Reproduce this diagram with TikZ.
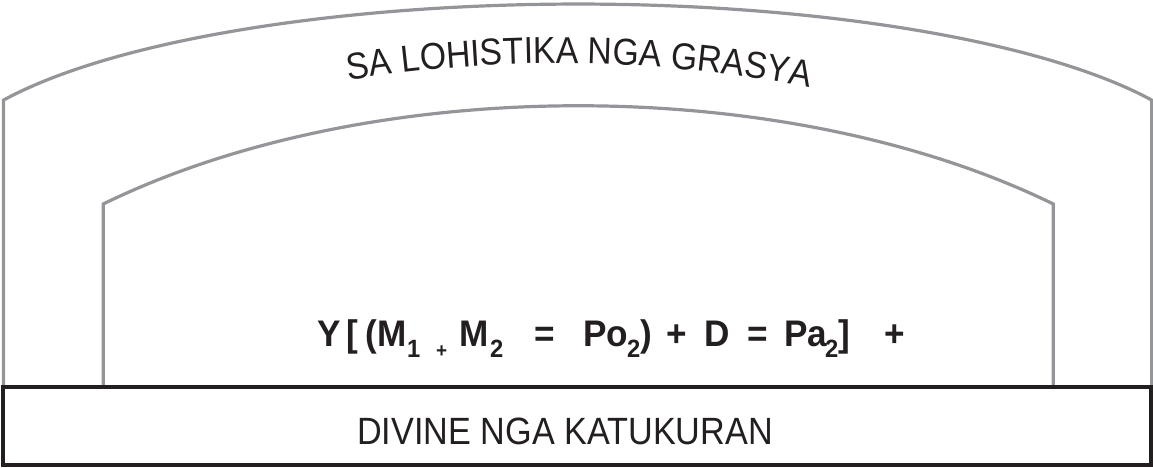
\documentclass[tikz,border=0pt]{standalone}
\usepackage{fontspec}
\setmainfont{Liberation Sans}
\newfontfamily\narrowfam[FakeStretch=0.9]{Liberation Sans}
\newfontfamily\formfam[FakeStretch=0.95]{Liberation Sans}
\usetikzlibrary{decorations.text}
\definecolor{ink}{HTML}{231F20}
\definecolor{archgray}{HTML}{939598}
\newcommand\titlefont{\narrowfam\fontsize{37.5}{37.5}\selectfont}
\newcommand\basefont{\narrowfam\fontsize{38}{38}\selectfont}
\newcommand\fmainfont{\formfam\fontsize{37}{37}\selectfont\bfseries}
\newcommand\fsubfont{\formfam\fontsize{25}{25}\selectfont\bfseries}
\newcommand\fplusfont{\formfam\fontsize{20}{20}\selectfont\bfseries}
\begin{document}
\begin{tikzpicture}[x=1pt,y=1pt,
  arch/.style={draw=archgray, line width=3.2pt, line join=miter},
  fm/.style={font=\fmainfont, text=ink, inner sep=0pt, anchor=base west},
  fs/.style={font=\fsubfont, text=ink, inner sep=0pt, anchor=base west},
  fp/.style={font=\fplusfont, text=ink, inner sep=0pt, anchor=base west}]
\useasboundingbox (0,0) rectangle (1153,467);
% outer arch
\draw[arch] (3.5,80) -- (3.5,366.9)
  arc[start angle=153.6, end angle=26.4, x radius=641, y radius=172.9] -- (1151.7,80);
% inner arch
\draw[arch] (103.2,80) -- (103.2,263)
  arc[start angle=132.74, end angle=47.26, x radius=700, y radius=370] -- (1053.2,80);
% base box
\node (base) [draw=ink, line width=4pt, minimum width=1148pt, minimum height=77.7pt, inner sep=0pt, fill=white] at (577,40.85) {};
\node (baselabel) [font=\basefont, text=ink, inner sep=0pt] at (565,36) {DIVINE NGA KATUKURAN};
% curved title
\path[decorate, decoration={text along path, text align=center,
  text={|\titlefont\color{ink}|SA LOHISTIKA NGA GRASYA}}]
  (340.9,385.5) arc[start angle=99.4, end angle=78.9, radius=1338.3];
% formula
\node[fm] (fY) at (317,121) {Y};
\node[fm] (fob) at (346,121) {[};
\node[fm] (fop) at (365,121) {(};
\node[fm] (fM1) at (377,121) {M};
\node[fs] (fs1) at (407,110) {1};
\node[fp] (fpl) at (436,110) {+};
\node[fm] (fM2) at (459,121) {M};
\node[fs] (fs2) at (490,110) {2};
\node[fm] (feq1) at (534,121) {=};
\node[fm] (fPo) at (583,121) {Po};
\node[fs] (fs3) at (627,110) {2};
\node[fm] (fcp) at (640,121) {)};
\node[fm] (fpl2) at (666,121) {+};
\node[fm] (fD) at (704,121) {D};
\node[fm] (feq2) at (747,121) {=};
\node[fm] (fPa) at (784,121) {Pa};
\node[fs] (fs4) at (825,110) {2};
\node[fm] (fcb) at (838,121) {]};
\node[fm] (fpl3) at (884,121) {+};
\end{tikzpicture}
\end{document}
